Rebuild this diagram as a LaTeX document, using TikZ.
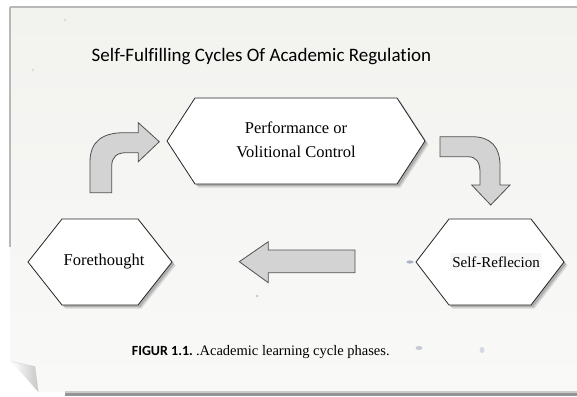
\documentclass[tikz,border=0pt]{standalone}
\usepackage{fontspec}
\setmainfont{Liberation Serif}
\newfontfamily\calibri[Ligatures=NoCommon]{Carlito}
\definecolor{paperTop}{RGB}{242,242,239}
\definecolor{paperBot}{RGB}{249,249,248}
\definecolor{arrowgray}{RGB}{211,211,211}
\definecolor{arrowline}{RGB}{80,80,80}
\definecolor{speck}{RGB}{150,160,185}
\begin{document}
\begin{tikzpicture}[x=1pt,y=-1pt,
  hexborder/.style={draw=black!85, line width=0.8pt, fill=white, line join=miter},
  hexshadow/.style={fill=black!45},
  blockarrow/.style={draw=arrowline, fill=arrowgray, line width=0.8pt, line join=miter},
  phase/.style={inner sep=0pt, align=center, font=\fontsize{16.5}{24}\selectfont},
  % flat-sided hexagon: #1 half-length of the flat edges, #2 half-width to the points, #3 half-height
  pics/hexa/.style n args={3}{code={
    \begin{scope}[shift={(3.5,3.5)}]
      \fill[hexshadow, opacity=.3] (-#2,0) -- (-#1,-#3) -- (#1,-#3) -- (#2,0) -- (#1,#3) -- (-#1,#3) -- cycle;
    \end{scope}
    \begin{scope}[shift={(2.2,2.2)}]
      \fill[hexshadow, opacity=.5] (-#2,0) -- (-#1,-#3) -- (#1,-#3) -- (#2,0) -- (#1,#3) -- (-#1,#3) -- cycle;
    \end{scope}
    \path[hexborder] (-#2,0) -- (-#1,-#3) -- (#1,-#3) -- (#2,0) -- (#1,#3) -- (-#1,#3) -- cycle;
  }}
]
\useasboundingbox (0,0) rectangle (577,396);
\fill[white] (0,0) rectangle (577,396);

% sheet of paper with a turned-up lower left corner
\shade[top color=paperTop, bottom color=paperBot]
  (10,7) -- (577,7) -- (577,392) -- (38.3,392) -- (11.7,361.7) -- (10,361.7) -- cycle;
\shade[left color=white, right color=black!22]
  (11.7,361.7) -- (35,366.5) -- (38.3,392) -- cycle;
\draw[black!18, line width=0.4pt] (11.7,361.7) -- (35,366.5) -- (38.3,392);
\draw[black!28, line width=1.3pt] (10,7) -- (577,7);
\draw[black!28, line width=1.3pt] (10,7) -- (10,247);
\fill[black!20] (65,390.5) rectangle (577,392.5);
\fill[black!42] (65,392.5) rectangle (577,396);

% paper specks
\fill[speck, opacity=.8] (410,262) ellipse (3.5 and 1.6);
\fill[speck, opacity=.5] (419,348) ellipse (3.5 and 2);
\fill[speck, opacity=.35] (482,350) ellipse (2.5 and 3);
\fill[speck, opacity=.55] (257,296) ellipse (1.6 and 1.2);
\fill[speck, opacity=.3] (65,20) circle (1.3);
\fill[speck, opacity=.3] (33,70) circle (1.3);

% title
\node[font=\calibri\fontsize{19}{23}\selectfont, anchor=base] (title) at (261.5,61.5)
  {Self-Fulfilling Cycles Of Academic Regulation};

% the three phases
\pic at (296,141) {hexa={101}{129}{43}};
\pic at (100,262) {hexa={38}{72}{43}};
\pic at (490,262) {hexa={41}{74}{43}};

\node[phase] (perf) at (296,140) {Performance or\\Volitional Control};
\node[phase] (fore) at (104,262) {Forethought};
\node[phase, font=\fontsize{15}{18}\selectfont, fill=black!3, inner xsep=2pt, inner ysep=4pt] (refl) at (496,262) {Self-Reflecion};

% block arrows between the phases
\path[blockarrow] (90,192.7) -- (90,162)
  .. controls (90,141) and (103,132.7) .. (124,132.7)
  -- (138.3,132.7) -- (138.3,122.7) -- (159.3,141.7) -- (138.3,161.7) -- (138.3,152.7)
  -- (126,152.7) .. controls (117,152.7) and (111.7,157) .. (111.7,166)
  -- (111.7,192.7) -- cycle;
\path[blockarrow] (440,136.7) -- (472,136.7)
  .. controls (490,136.7) and (500,146) .. (500,166)
  -- (500,185) -- (510,185) -- (490.7,205) -- (471.7,185) -- (480,185)
  -- (480,172) .. controls (480,162) and (476,156.7) .. (468,156.7)
  -- (440,156.7) -- cycle;
\path[blockarrow] (355,250) -- (268.3,250) -- (268.3,241.7) -- (239.3,261.7)
  -- (268.3,282.7) -- (268.3,272.7) -- (355,272.7) -- cycle;

% caption
\node[anchor=base west, inner sep=0pt] (caption) at (131.7,355)
  {\calibri\bfseries\fontsize{14}{17}\selectfont FIGUR 1.1.\ \rmfamily\mdseries\fontsize{14.5}{17}\selectfont.Academic learning cycle phases.};
\end{tikzpicture}
\end{document}
